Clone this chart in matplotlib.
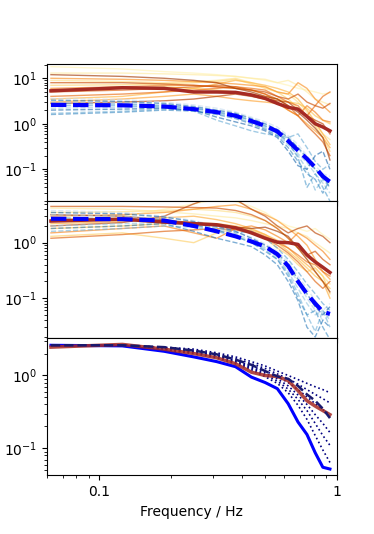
import matplotlib
matplotlib.use("Agg")
import matplotlib.pyplot as plt
import numpy as np

freq = [0.0625, 0.125, 0.1875, 0.25, 0.3125, 0.375, 0.4375, 0.5,
        0.5625, 0.625, 0.6875, 0.75, 0.8125, 0.875, 0.9375]

# top panel: observed spectra (orange) and model spectra (blue dashed)
obs1 = [
    [18, 16, 14, 13, 12, 11, 10, 9, 8, 7, 6, 5.5, 5, 4.5, 4.8],
    [13, 13, 12.5, 12, 11.5, 11, 10, 9.5, 8, 9, 7, 5, 3.5, 3, 2.6],
    [9, 8.5, 8, 8.5, 9, 10, 8, 6.5, 5, 4.5, 3, 1.8, 1.0, 0.6, 0.45],
    [7, 7.2, 7.5, 8, 8.5, 9.5, 7.5, 6, 5, 3.5, 2.2, 1.5, 0.9, 0.5, 0.25],
    [5.5, 6, 6.5, 6, 5.5, 5, 4.5, 4, 3.5, 3, 2.8, 2.2, 1.5, 1.2, 1.0],
    [3.5, 4, 5, 6, 7.5, 9, 8, 7, 6, 5, 3.5, 2.0, 1.1, 0.6, 0.35],
    [3, 3.5, 4, 4.5, 4, 3.5, 3.2, 3, 2.8, 2.0, 1.5, 1.0, 0.7, 0.5, 0.3],
    [10, 9.5, 9, 8.5, 8, 7.5, 7, 6.5, 5, 4.5, 8, 6, 3.5, 2.5, 1.8],
    [6, 6.5, 7, 7, 6.5, 6, 5.5, 4.5, 3, 2, 1.5, 2.5, 1.8, 1.2, 1.1],
    [4, 4.5, 5, 5.5, 6, 6.5, 6, 5.5, 4, 3, 2.5, 1.5, 2.5, 4, 5],
    [5, 5.5, 6, 6.5, 7, 6.5, 5.5, 4.5, 3.5, 2.5, 1.5, 0.9, 0.6, 0.4, 0.2],
    [8, 8, 7.5, 7, 6.5, 6, 5.5, 5, 4, 3.5, 4.5, 3, 2.5, 2.2, 2.8],
    [2.8, 3, 3.2, 3.5, 4, 4.5, 4, 3.5, 3.2, 3, 2, 1.5, 1.2, 1.0, 0.6],
    [12, 11, 10, 9, 8, 6, 5, 4, 3.5, 2.5, 1.8, 1.2, 0.8, 0.5, 0.16],
]
mod1 = [
    [3.6, 3.4, 3.0, 2.6, 2.2, 1.8, 1.4, 1.1, 0.85, 0.55, 0.35, 0.2, 0.12, 0.08, 0.07],
    [3.0, 2.9, 2.7, 2.3, 1.9, 1.6, 1.2, 0.95, 0.7, 0.45, 0.3, 0.15, 0.1, 0.06, 0.05],
    [2.2, 2.3, 2.4, 2.2, 1.9, 1.5, 1.15, 0.85, 0.65, 0.4, 0.22, 0.14, 0.08, 0.05, 0.03],
    [1.7, 1.9, 2.1, 2.0, 1.7, 1.4, 1.05, 0.8, 0.6, 0.35, 0.2, 0.1, 0.035, 0.06, 0.04],
    [2.5, 2.5, 2.3, 1.9, 1.2, 0.9, 0.7, 0.6, 0.55, 0.5, 0.6, 0.3, 0.15, 0.1, 0.13],
    [2.8, 2.7, 2.5, 2.2, 1.8, 1.5, 1.2, 0.9, 0.62, 0.4, 0.18, 0.04, 0.08, 0.04, 0.02],
    [1.6, 1.8, 2.0, 1.9, 1.6, 1.3, 1.0, 0.75, 0.55, 0.3, 0.15, 0.08, 0.06, 0.03, 0.06],
    [3.3, 3.1, 2.8, 2.4, 2.0, 1.7, 1.3, 1.0, 0.75, 0.5, 0.3, 0.18, 0.1, 0.07, 0.04],
    [2.0, 2.1, 2.2, 2.0, 1.4, 1.1, 0.9, 0.7, 0.5, 0.25, 0.12, 0.1, 0.2, 0.25, 0.1],
]
obs1_mean = [5.3, 6.2, 6.0, 5.0, 5.0, 4.9, 4.3, 3.6, 2.8, 2.3, 2.1, 1.45, 1.0, 0.85, 0.7]
mod1_mean = [2.6, 2.55, 2.4, 2.1, 1.8, 1.5, 1.15, 0.9, 0.68, 0.42, 0.26, 0.17, 0.11, 0.07, 0.053]

# middle panel
obs2 = [
    [2.5, 3, 4, 5, 6, 5.5, 4.5, 3.5, 2.5, 2, 1.8, 1.6, 1.8, 1.4, 1.15],
    [4.2, 4.0, 3.6, 3.3, 3.0, 2.8, 2.5, 2.2, 2.0, 1.8, 1.5, 1.3, 1.0, 0.8, 0.65],
    [3.5, 3.6, 3.8, 4.0, 3.8, 3.5, 3.0, 2.5, 1.8, 1.2, 0.8, 0.5, 0.35, 0.25, 0.18],
    [1.3, 1.5, 1.2, 1.0, 1.5, 1.8, 1.6, 1.2, 0.8, 0.6, 0.4, 0.3, 0.35, 0.25, 0.12],
    [1.8, 2.0, 2.2, 2.3, 2.2, 2.0, 1.7, 1.4, 1.0, 0.7, 0.5, 0.35, 0.25, 0.2, 0.15],
    [2.2, 2.4, 2.8, 3.0, 2.6, 2.2, 1.8, 1.4, 1.1, 0.8, 0.55, 0.4, 0.3, 0.2, 0.1],
    [3.0, 3.2, 3.5, 4.0, 4.5, 4.8, 4.0, 3.2, 2.5, 1.8, 1.3, 0.9, 0.5, 0.3, 0.22],
    [1.5, 1.8, 2.0, 1.5, 1.2, 1.8, 2.0, 1.7, 1.3, 1.0, 1.5, 1.2, 0.9, 0.7, 0.5],
    [2.6, 2.7, 2.5, 2.3, 2.1, 1.9, 1.6, 1.3, 1.0, 0.8, 0.6, 0.45, 0.4, 0.3, 0.25],
    [1.2, 1.4, 1.6, 1.7, 1.8, 1.7, 1.5, 1.2, 0.9, 0.65, 0.45, 0.3, 0.2, 0.15, 0.2],
    [4.5, 4.5, 4.4, 4.3, 4.2, 3.8, 3.2, 2.5, 1.8, 1.2, 0.8, 0.6, 0.7, 0.5, 0.4],
    [2.0, 2.3, 3.0, 5.0, 7.0, 6.0, 4.0, 3.0, 2.0, 1.5, 1.8, 2.0, 1.5, 1.3, 1.0],
    [3.2, 3.0, 2.6, 2.2, 2.0, 1.9, 1.8, 1.9, 1.6, 1.3, 0.8, 0.5, 0.3, 0.2, 0.13],
]
mod2 = [
    [3.8, 3.5, 3.0, 2.5, 2.0, 1.6, 1.25, 0.95, 0.7, 0.45, 0.25, 0.15, 0.09, 0.06, 0.08],
    [3.2, 3.0, 2.7, 2.2, 1.8, 1.45, 1.1, 0.85, 0.6, 0.35, 0.2, 0.1, 0.06, 0.04, 0.05],
    [2.0, 2.2, 2.3, 2.0, 1.7, 1.35, 1.05, 0.8, 0.55, 0.3, 0.15, 0.08, 0.05, 0.06, 0.04],
    [1.6, 1.8, 2.0, 1.9, 1.6, 1.3, 1.0, 0.75, 0.5, 0.28, 0.12, 0.05, 0.025, 0.06, 0.03],
    [2.6, 2.6, 2.5, 2.2, 1.9, 1.5, 1.6, 1.2, 0.8, 0.5, 0.3, 0.18, 0.12, 0.08, 0.06],
    [2.8, 2.7, 2.5, 2.1, 1.7, 1.3, 1.0, 0.7, 0.5, 0.25, 0.1, 0.05, 0.06, 0.03, 0.018],
    [1.8, 2.0, 2.2, 1.6, 1.2, 1.0, 0.85, 0.6, 0.4, 0.2, 0.09, 0.03, 0.02, 0.04, 0.03],
    [3.5, 3.3, 2.9, 2.4, 2.0, 1.6, 1.2, 0.9, 0.65, 0.4, 0.22, 0.12, 0.07, 0.05, 0.07],
]
obs2_mean = [2.45, 2.65, 2.35, 2.2, 2.1, 1.85, 1.5, 1.2, 1.02, 1.0, 0.93, 0.6, 0.45, 0.36, 0.29]
mod2_mean = [2.7, 2.65, 2.5, 2.0, 1.6, 1.3, 1.05, 0.85, 0.62, 0.38, 0.2, 0.12, 0.08, 0.057, 0.052]

# bottom panel
base3 = [2.6, 2.55, 2.15, 1.8, 1.55, 1.32, 0.95, 0.8, 0.66, 0.41, 0.23, 0.155, 0.087, 0.055, 0.052]
obs3 = [2.45, 2.67, 2.3, 2.0, 1.75, 1.45, 1.11, 1.0, 0.97, 0.85, 0.62, 0.45, 0.38, 0.33, 0.29]
fit3 = [2.6, 2.6, 2.45, 2.2, 1.95, 1.65, 1.4, 1.15, 0.97, 0.9, 0.72, 0.55, 0.45, 0.35, 0.26]
runs3 = [
    [2.6, 2.6, 2.45, 2.3, 2.05, 1.8, 1.55, 1.35, 1.15, 1.0, 0.88, 0.78, 0.70, 0.64, 0.58],
    [2.6, 2.6, 2.4, 2.2, 1.95, 1.7, 1.45, 1.25, 1.05, 0.9, 0.76, 0.64, 0.55, 0.48, 0.42],
    [2.6, 2.6, 2.35, 2.15, 1.9, 1.6, 1.35, 1.15, 0.97, 0.8, 0.64, 0.51, 0.41, 0.34, 0.29],
    [2.6, 2.6, 2.3, 2.1, 1.85, 1.55, 1.3, 1.08, 0.9, 0.72, 0.54, 0.40, 0.29, 0.22, 0.165],
    [2.6, 2.6, 2.3, 2.05, 1.8, 1.5, 1.25, 1.02, 0.84, 0.65, 0.47, 0.33, 0.22, 0.15, 0.11],
    [2.6, 2.6, 2.25, 2.0, 1.75, 1.45, 1.2, 0.96, 0.78, 0.58, 0.39, 0.25, 0.15, 0.095, 0.064],
]

fig, axes = plt.subplots(3, 1, sharex=True, figsize=(3.74, 5.34))
fig.subplots_adjust(hspace=0)

def spread(ax, obs, mod, obs_mean, mod_mean):
    ocol = plt.cm.YlOrBr(np.linspace(0.15, 0.85, len(obs)))
    for k, s in enumerate(obs):
        ax.plot(freq, s, "-", c=ocol[k], lw=1, alpha=0.65)
    bcol = plt.cm.Blues(np.linspace(0.25, 0.8, len(mod)))
    for k, s in enumerate(mod):
        ax.plot(freq, s, "--", c=bcol[k], lw=1, alpha=0.6)
    ax.plot(freq, obs_mean, "-", c="#a52a23", lw=2.5)
    ax.plot(freq, mod_mean, "--", c="blue", lw=3)

spread(axes[0], obs1, mod1, obs1_mean, mod1_mean)
spread(axes[1], obs2, mod2, obs2_mean, mod2_mean)

ax = axes[2]
for s in runs3:
    ax.plot(freq, s, ":", c="navy", lw=1.2)
ax.plot(freq, base3, "-", c="blue", lw=2.2)
ax.plot(freq, obs3, "-", c="#a52a23", lw=2.5, alpha=0.85)
ax.plot(freq, fit3, "--", c="#1a1a6e", lw=1.8)

for ax in axes:
    ax.set_xscale("log")
    ax.set_yscale("log")
axes[0].set_ylim(0.02, 20.5)
axes[1].set_ylim(0.019, 5.6)
axes[2].set_xlim(0.06, 1.0)
axes[2].set_xticks([0.1, 1], ["0.1", "1"])
axes[2].set_xlabel("Frequency / Hz")

plt.savefig("out.png", dpi=100)
